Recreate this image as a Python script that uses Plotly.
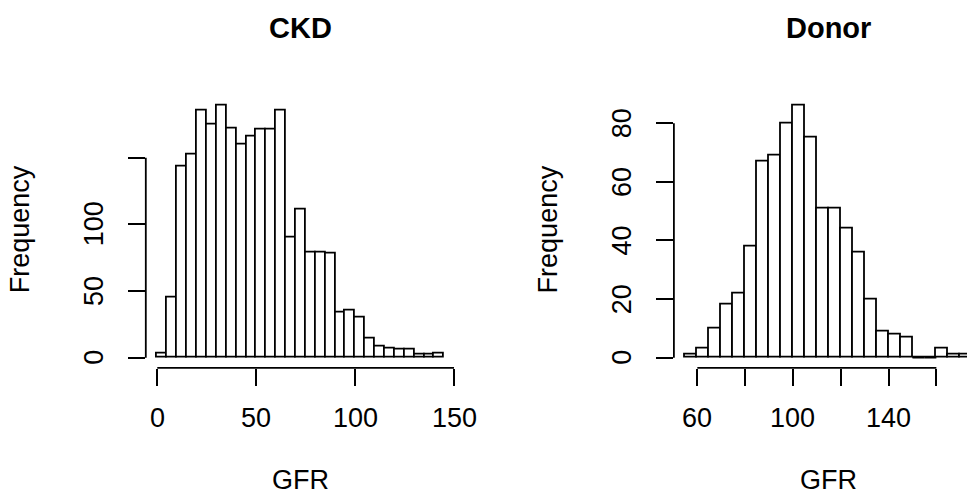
import plotly.graph_objects as go

# ---------------- data ----------------
bin_width = 5
ckd_first_edge = 0
ckd_counts = [3, 45, 143, 152, 185, 175, 189, 172, 160, 166, 171, 171, 185, 90, 111,
              79, 79, 78, 34, 35, 30, 14, 8, 7, 6, 6, 2, 2, 3]
donor_first_edge = 55
donor_counts = [1, 3, 10, 18, 22, 38, 67, 69, 80, 86, 75, 51, 51, 44, 36, 20, 9, 8, 7,
                0, 0, 3, 1, 1]

ckd_xticks = [0, 50, 100, 150]
ckd_xticktext = ["0", "50", "100", "150"]
ckd_yticks = [0, 50, 100, 150]
ckd_yticktext = ["0", "50", "100", ""]
donor_xticks = [60, 80, 100, 120, 140, 160]
donor_xticktext = ["60", "", "100", "", "140", ""]
donor_yticks = [0, 20, 40, 60, 80]
donor_yticktext = ["0", "20", "40", "60", "80"]

titles = ["CKD", "Donor"]
xlabel = "GFR"
ylabel = "Frequency"

# ---------------- layout helpers ----------------
W, H = 967, 499
FONT = "Liberation Sans, Arial, Helvetica, sans-serif"
TICK_FS = 27
LAB_FS = 27
TITLE_FS = 29
LW = 1.8


def edges(first, counts):
    return [first + bin_width * i for i in range(len(counts) + 1)]


def centers(first, counts):
    return [first + bin_width * (i + 0.5) for i in range(len(counts))]


def r_range(lo, hi):
    span = hi - lo
    return [lo - 0.04 * span, hi + 0.04 * span]


ckd_edges = edges(ckd_first_edge, ckd_counts)
donor_edges = edges(donor_first_edge, donor_counts)

# plot regions in pixels
REG_W = 309.8
ckd_left = 145.8
donor_left = 673.9
reg_top, reg_bot = 95.6, 367.8

ckd_xr = r_range(ckd_edges[0], ckd_edges[-1])
donor_xr_full = r_range(donor_edges[0], donor_edges[-1])
ppu_donor = REG_W / (donor_xr_full[1] - donor_xr_full[0])
donor_xr = [donor_xr_full[0], donor_xr_full[0] + (W - donor_left) / ppu_donor]
ckd_yr = r_range(0, max(ckd_counts))
donor_yr = r_range(0, max(donor_counts))

fig = go.Figure()
panels = [
    ("x", "y", ckd_first_edge, ckd_counts, ckd_edges),
    ("x2", "y2", donor_first_edge, donor_counts, donor_edges),
]
for xa, ya, first, counts, edg in panels:
    fig.add_trace(go.Bar(x=centers(first, counts), y=counts, width=bin_width,
                         marker=dict(color="white", line=dict(color="black", width=LW)),
                         xaxis=xa, yaxis=ya, showlegend=False, hoverinfo="x+y"))
    # empty bins are drawn by R as flat outlines on the baseline
    zx, zy = [], []
    for i, c in enumerate(counts):
        if c == 0:
            zx += [edg[i], edg[i + 1], None]
            zy += [0, 0, None]
    if zx:
        fig.add_trace(go.Scatter(x=zx, y=zy, mode="lines", line=dict(color="black", width=LW),
                                 xaxis=xa, yaxis=ya, showlegend=False, hoverinfo="skip"))

ydom = [1 - reg_bot / H, 1 - reg_top / H]
common = dict(showgrid=False, zeroline=False, showline=False, ticks="outside", ticklen=17,
              tickwidth=LW, tickcolor="black", showticklabels=False, fixedrange=True)

fig.update_layout(
    width=W, height=H, margin=dict(l=0, r=0, t=0, b=0),
    paper_bgcolor="white", plot_bgcolor="white", bargap=0,
    xaxis=dict(domain=[ckd_left / W, (ckd_left + REG_W) / W], range=ckd_xr, anchor="y",
               tickmode="array", tickvals=ckd_xticks, **common),
    yaxis=dict(domain=ydom, range=ckd_yr, anchor="x",
               tickmode="array", tickvals=ckd_yticks, **common),
    xaxis2=dict(domain=[donor_left / W, 1.0], range=donor_xr, anchor="y2",
                tickmode="array", tickvals=donor_xticks, **common),
    yaxis2=dict(domain=ydom, range=donor_yr, anchor="x2",
                tickmode="array", tickvals=donor_yticks, **common),
)

shapes = []
ann = []
tick_sets = [
    ("x", "y", ckd_left, ckd_xticks, ckd_xticktext, ckd_yticks, ckd_yticktext),
    ("x2", "y2", donor_left, donor_xticks, donor_xticktext, donor_yticks, donor_yticktext),
]
for xa, ya, left, xt, xtt, yt, ytt in tick_sets:
    # R-style axis lines that span only the first to last tick
    shapes.append(dict(type="line", xref=xa, yref=ya + " domain", x0=xt[0], x1=xt[-1], y0=0, y1=0,
                       line=dict(color="black", width=LW)))
    shapes.append(dict(type="line", xref=xa + " domain", yref=ya, x0=0, x1=0, y0=yt[0], y1=yt[-1],
                       line=dict(color="black", width=LW)))
    for v, t in zip(xt, xtt):
        if t:
            ann.append(dict(text=t, x=v, xref=xa, y=1 - 417.5 / H, yref="paper", showarrow=False,
                            xanchor="center", yanchor="middle",
                            font=dict(family=FONT, size=TICK_FS, color="black")))
    for v, t in zip(yt, ytt):
        if t:
            ann.append(dict(text=t, x=(left - 51.8) / W, xref="paper", y=v, yref=ya, showarrow=False,
                            xanchor="center", yanchor="middle", textangle=-90,
                            font=dict(family=FONT, size=TICK_FS, color="black")))

for title, left in zip(titles, [ckd_left, donor_left]):
    cx = (left + REG_W / 2) / W
    ann.append(dict(text="<b>%s</b>" % title, x=cx, y=1 - 28 / H, xref="paper", yref="paper",
                    showarrow=False, xanchor="center", yanchor="middle",
                    font=dict(family=FONT, size=TITLE_FS, color="black")))
    ann.append(dict(text=xlabel, x=cx, y=1 - 480 / H, xref="paper", yref="paper",
                    showarrow=False, xanchor="center", yanchor="middle",
                    font=dict(family=FONT, size=LAB_FS, color="black")))
    ann.append(dict(text=ylabel, x=(left - 125.5) / W, y=1 - 229 / H, xref="paper", yref="paper",
                    showarrow=False, xanchor="center", yanchor="middle", textangle=-90,
                    font=dict(family=FONT, size=LAB_FS, color="black")))

fig.update_layout(shapes=shapes, annotations=ann)

# remove the default 8px page margin so the figure sits at the window's origin
fig.write_html("out.html", config={"displayModeBar": False},
               post_script="document.body.style.margin='0';document.body.style.overflow='hidden';")
